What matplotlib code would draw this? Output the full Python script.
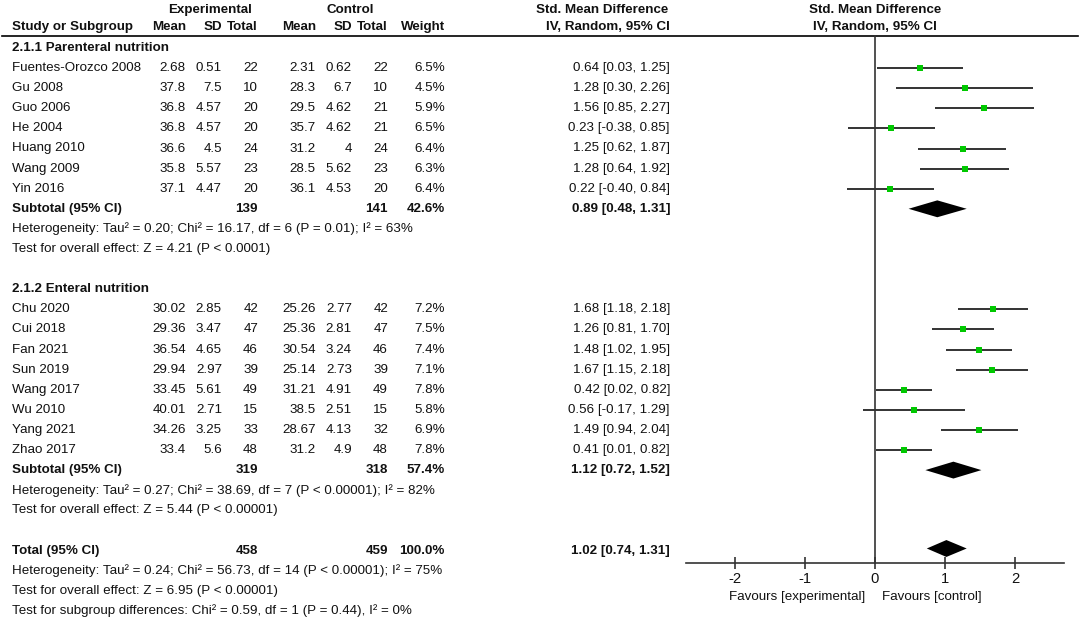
import matplotlib.pyplot as plt
from matplotlib.patches import Polygon

plt.rcParams['font.family'] = ['Liberation Sans', 'DejaVu Sans']

# ---- data ----
group_titles = ['2.1.1 Parenteral nutrition', '2.1.2 Enteral nutrition']

studies = [
    ['Fuentes-Orozco 2008', 'Gu 2008', 'Guo 2006', 'He 2004', 'Huang 2010', 'Wang 2009', 'Yin 2016'],
    ['Chu 2020', 'Cui 2018', 'Fan 2021', 'Sun 2019', 'Wang 2017', 'Wu 2010', 'Yang 2021', 'Zhao 2017'],
]
exp_mean = [
    ['2.68', '37.8', '36.8', '36.8', '36.6', '35.8', '37.1'],
    ['30.02', '29.36', '36.54', '29.94', '33.45', '40.01', '34.26', '33.4'],
]
exp_sd = [
    ['0.51', '7.5', '4.57', '4.57', '4.5', '5.57', '4.47'],
    ['2.85', '3.47', '4.65', '2.97', '5.61', '2.71', '3.25', '5.6'],
]
exp_n = [
    [22, 10, 20, 20, 24, 23, 20],
    [42, 47, 46, 39, 49, 15, 33, 48],
]
ctl_mean = [
    ['2.31', '28.3', '29.5', '35.7', '31.2', '28.5', '36.1'],
    ['25.26', '25.36', '30.54', '25.14', '31.21', '38.5', '28.67', '31.2'],
]
ctl_sd = [
    ['0.62', '6.7', '4.62', '4.62', '4', '5.62', '4.53'],
    ['2.77', '2.81', '3.24', '2.73', '4.91', '2.51', '4.13', '4.9'],
]
ctl_n = [
    [22, 10, 21, 21, 24, 23, 20],
    [42, 47, 46, 39, 49, 15, 32, 48],
]
weight = [
    [6.5, 4.5, 5.9, 6.5, 6.4, 6.3, 6.4],
    [7.2, 7.5, 7.4, 7.1, 7.8, 5.8, 6.9, 7.8],
]
smd = [
    [0.64, 1.28, 1.56, 0.23, 1.25, 1.28, 0.22],
    [1.68, 1.26, 1.48, 1.67, 0.42, 0.56, 1.49, 0.41],
]
ci_lo = [
    [0.03, 0.30, 0.85, -0.38, 0.62, 0.64, -0.40],
    [1.18, 0.81, 1.02, 1.15, 0.02, -0.17, 0.94, 0.01],
]
ci_hi = [
    [1.25, 2.26, 2.27, 0.85, 1.87, 1.92, 0.84],
    [2.18, 1.70, 1.95, 2.18, 0.82, 1.29, 2.04, 0.82],
]

sub_exp_n = [139, 319]
sub_ctl_n = [141, 318]
sub_weight = [42.6, 57.4]
sub_smd = [0.89, 1.12]
sub_lo = [0.48, 0.72]
sub_hi = [1.31, 1.52]
sub_het = [
    'Heterogeneity: Tau² = 0.20; Chi² = 16.17, df = 6 (P = 0.01); I² = 63%',
    'Heterogeneity: Tau² = 0.27; Chi² = 38.69, df = 7 (P < 0.00001); I² = 82%',
]
sub_test = [
    'Test for overall effect: Z = 4.21 (P < 0.0001)',
    'Test for overall effect: Z = 5.44 (P < 0.00001)',
]

total_exp_n = 458
total_ctl_n = 459
total_weight = 100.0
total_smd = 1.02
total_lo = 0.74
total_hi = 1.31
total_notes = [
    'Heterogeneity: Tau² = 0.24; Chi² = 56.73, df = 14 (P < 0.00001); I² = 75%',
    'Test for overall effect: Z = 6.95 (P < 0.00001)',
    'Test for subgroup differences: Chi² = 0.59, df = 1 (P = 0.44), I² = 0%',
]

xticks = [-2, -1, 0, 1, 2]

# ---- layout ----
W, H = 1084, 619
row_px, row0_px = 20.1, 48
fs = 9.6
top_r = -row0_px / row_px
bot_r = (H - row0_px) / row_px

fig = plt.figure(figsize=(W / 100, H / 100), dpi=100)
ax = fig.add_axes([0, 0, 1, 1])
ax.set_xlim(0, W)
ax.set_ylim(bot_r, top_r)
ax.axis('off')

fx = fig.add_axes([686 / W, 0, 378 / W, 1], sharey=ax)
fx.set_xlim(-2.7, 2.7)
fx.patch.set_alpha(0)

col_name = 12
cols = [186, 222, 258, 316, 352, 388, 445, 670]


def put(x, r, s, ha='right', bold=False):
    ax.text(x, r, s, ha=ha, va='center', fontsize=fs, color='#111111',
            fontweight='bold' if bold else 'normal')


def diamond(est, lo, hi, r, h=0.42):
    fx.add_patch(Polygon([(lo, r), (est, r - h), (hi, r), (est, r + h)],
                         closed=True, color='black', lw=0))


# header
put(210, -1.9, 'Experimental', ha='center', bold=True)
put(350, -1.9, 'Control', ha='center', bold=True)
put(602, -1.9, 'Std. Mean Difference', ha='center', bold=True)
put(col_name, -1.05, 'Study or Subgroup', ha='left', bold=True)
for x, s in zip(cols, ['Mean', 'SD', 'Total', 'Mean', 'SD', 'Total', 'Weight', 'IV, Random, 95% CI']):
    put(x, -1.05, s, bold=True)
fx.text(0, -1.9, 'Std. Mean Difference', ha='center', va='center', fontsize=fs,
        fontweight='bold', color='#111111')
fx.text(0, -1.05, 'IV, Random, 95% CI', ha='center', va='center', fontsize=fs,
        fontweight='bold', color='#111111')
ax.axhline(-0.6, xmin=2 / W, xmax=1078 / W, color='black', lw=1.2)

r = 0
for g in range(2):
    put(col_name, r, group_titles[g], ha='left', bold=True)
    r += 1
    for i, name in enumerate(studies[g]):
        vals = [exp_mean[g][i], exp_sd[g][i], str(exp_n[g][i]),
                ctl_mean[g][i], ctl_sd[g][i], str(ctl_n[g][i]),
                f'{weight[g][i]:.1f}%',
                f'{smd[g][i]:.2f} [{ci_lo[g][i]:.2f}, {ci_hi[g][i]:.2f}]']
        put(col_name, r, name, ha='left')
        for x, s in zip(cols, vals):
            put(x, r, s)
        fx.plot([ci_lo[g][i], ci_hi[g][i]], [r, r], color='#333333', lw=1.4, solid_capstyle='butt')
        fx.plot(smd[g][i], r, 's', color='#00c800', markersize=4, markeredgewidth=0)
        r += 1
    put(col_name, r, 'Subtotal (95% CI)', ha='left', bold=True)
    put(cols[2], r, str(sub_exp_n[g]), bold=True)
    put(cols[5], r, str(sub_ctl_n[g]), bold=True)
    put(cols[6], r, f'{sub_weight[g]:.1f}%', bold=True)
    put(cols[7], r, f'{sub_smd[g]:.2f} [{sub_lo[g]:.2f}, {sub_hi[g]:.2f}]', bold=True)
    diamond(sub_smd[g], sub_lo[g], sub_hi[g], r)
    r += 1
    put(col_name, r, sub_het[g], ha='left')
    r += 1
    put(col_name, r, sub_test[g], ha='left')
    r += 2

put(col_name, r, 'Total (95% CI)', ha='left', bold=True)
put(cols[2], r, str(total_exp_n), bold=True)
put(cols[5], r, str(total_ctl_n), bold=True)
put(cols[6], r, f'{total_weight:.1f}%', bold=True)
put(cols[7], r, f'{total_smd:.2f} [{total_lo:.2f}, {total_hi:.2f}]', bold=True)
diamond(total_smd, total_lo, total_hi, r - 0.1)
for note in total_notes:
    r += 1
    put(col_name, r, note, ha='left')

# forest axis
axis_r = (563 - row0_px) / row_px
fx.plot([0, 0], [-0.6, axis_r], color='#333333', lw=1.2)
for s in ['top', 'right', 'left']:
    fx.spines[s].set_visible(False)
fx.spines['bottom'].set_position(('data', axis_r))
fx.spines['bottom'].set_linewidth(1.2)
fx.spines['bottom'].set_color('#333333')
fx.set_xticks(xticks)
fx.set_xticklabels([str(t) for t in xticks])
fx.tick_params(axis='x', direction='inout', length=8, width=1.2, color='#333333',
               labelsize=fs + 1, labelcolor='#111111', pad=2.5)
fx.tick_params(axis='y', left=False, labelleft=False)
fav_r = (597 - row0_px) / row_px
fx.text(-0.14, fav_r, 'Favours [experimental]', ha='right', va='center', fontsize=fs, color='#111111')
fx.text(0.1, fav_r, 'Favours [control]', ha='left', va='center', fontsize=fs, color='#111111')

fig.savefig('out.png', dpi=100)
